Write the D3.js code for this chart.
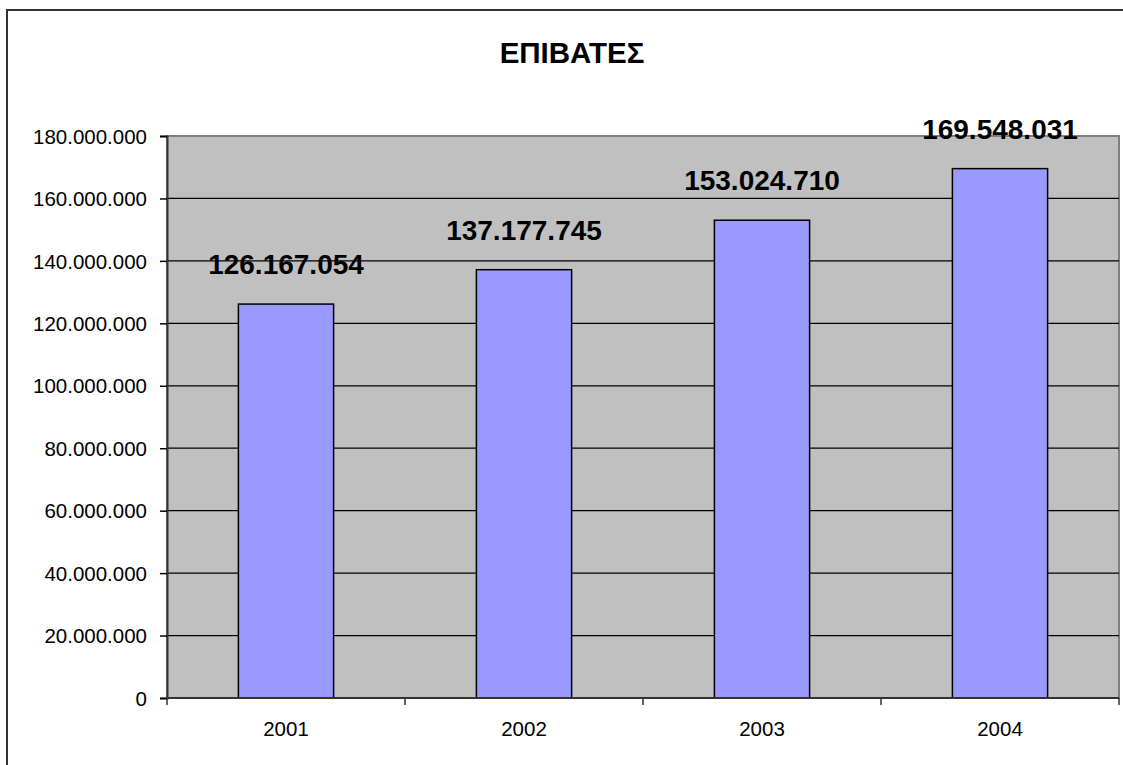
<!DOCTYPE html>
<meta charset="utf-8">
<style>
    body { margin: 0; background: #fff; }
    svg { display: block; font-family: "Liberation Sans", Arial, sans-serif; }
    .grid line { stroke: #000; stroke-width: 1.2; }
    .bar { fill: #9999ff; stroke: #000; stroke-width: 1.5; }
    .value { font-weight: bold; font-size: 28px; fill: #000; }
    .axis text { font-size: 20.5px; fill: #000; }
</style>
<svg width="1123" height="765"></svg>
<script src="https://d3js.org/d3.v7.min.js"></script>
<script>

    // data
    var years = ["2001", "2002", "2003", "2004"];
    var passengers = [126167054, 137177745, 153024710, 169548031];
    var yTicks = [0, 20000000, 40000000, 60000000, 80000000, 100000000, 120000000, 140000000, 160000000, 180000000];
    var title = "ΕΠΙΒΑΤΕΣ";

    var svg = d3.select("svg"),
        plot = { left: 167, right: 1119, top: 136, bottom: 698 };

    // greek style thousands: 126.167.054
    var fmt = d3.formatLocale({ decimal: ",", thousands: ".", grouping: [3], currency: ["", "€"] }).format(",d");

    // outer chart border (runs off the right and bottom edges)
    svg.append("rect")
        .attr("x", 7).attr("y", 10)
        .attr("width", 1140).attr("height", 800)
        .attr("fill", "#fff")
        .attr("stroke", "#333")
        .attr("stroke-width", 2);

    svg.append("text")
        .attr("x", 572).attr("y", 63)
        .attr("text-anchor", "middle")
        .style("font-size", "29.5px")
        .style("font-weight", "bold")
        .text(title);

    var x = d3.scaleBand()
        .domain(years)
        .range([plot.left, plot.right])
        .paddingInner(0.6)
        .paddingOuter(0.3);

    var y = d3.scaleLinear()
        .domain([0, 180000000])
        .range([plot.bottom, plot.top]);

    // plot background
    svg.append("rect")
        .attr("x", plot.left).attr("y", plot.top)
        .attr("width", plot.right - plot.left)
        .attr("height", plot.bottom - plot.top)
        .attr("fill", "#c0c0c0")
        .attr("stroke", "#808080")
        .attr("stroke-width", 2);

    // gridlines
    svg.append("g")
        .attr("class", "grid")
        .selectAll("line")
        .data(yTicks.slice(1, -1))
        .join("line")
        .attr("x1", plot.left).attr("x2", plot.right)
        .attr("y1", function (d) { return y(d); })
        .attr("y2", function (d) { return y(d); });

    // bars
    svg.append("g")
        .selectAll("rect")
        .data(passengers)
        .join("rect")
        .attr("class", "bar")
        .attr("x", function (d, i) { return x(years[i]); })
        .attr("width", x.bandwidth())
        .attr("y", function (d) { return y(d); })
        .attr("height", function (d) { return y(0) - y(d); });

    // value labels
    svg.append("g")
        .selectAll("text")
        .data(passengers)
        .join("text")
        .attr("class", "value")
        .attr("text-anchor", "middle")
        .attr("x", function (d, i) { return x(years[i]) + x.bandwidth() / 2; })
        .attr("y", function (d) { return y(d) - 30; })
        .text(function (d) { return fmt(d); });

    // y axis
    var yAxis = svg.append("g")
        .attr("class", "axis")
        .attr("transform", "translate(" + plot.left + ",0)")
        .call(d3.axisLeft(y).tickValues(yTicks).tickFormat(fmt).tickSize(7).tickPadding(13));
    yAxis.select(".domain").attr("stroke", "#333").attr("stroke-width", 2);
    yAxis.selectAll(".tick line").attr("stroke", "#000").attr("stroke-width", 1.5);
    yAxis.selectAll("text").attr("dy", "0.35em");

    // x axis: ticks at the category boundaries
    var xAxis = svg.append("g")
        .attr("class", "axis")
        .attr("transform", "translate(0," + plot.bottom + ")");
    xAxis.append("line")
        .attr("x1", plot.left).attr("x2", plot.right)
        .attr("stroke", "#333").attr("stroke-width", 2);
    xAxis.selectAll(".bound")
        .data(d3.range(years.length + 1))
        .join("line")
        .attr("class", "bound")
        .attr("x1", function (i) { return plot.left + i * (plot.right - plot.left) / years.length; })
        .attr("x2", function (i) { return plot.left + i * (plot.right - plot.left) / years.length; })
        .attr("y1", 0).attr("y2", 7)
        .attr("stroke", "#333").attr("stroke-width", 1.5);
    xAxis.selectAll(".lbl")
        .data(years)
        .join("text")
        .attr("class", "lbl")
        .attr("text-anchor", "middle")
        .attr("x", function (d) { return x(d) + x.bandwidth() / 2; })
        .attr("y", 38)
        .text(function (d) { return d; });

</script>
